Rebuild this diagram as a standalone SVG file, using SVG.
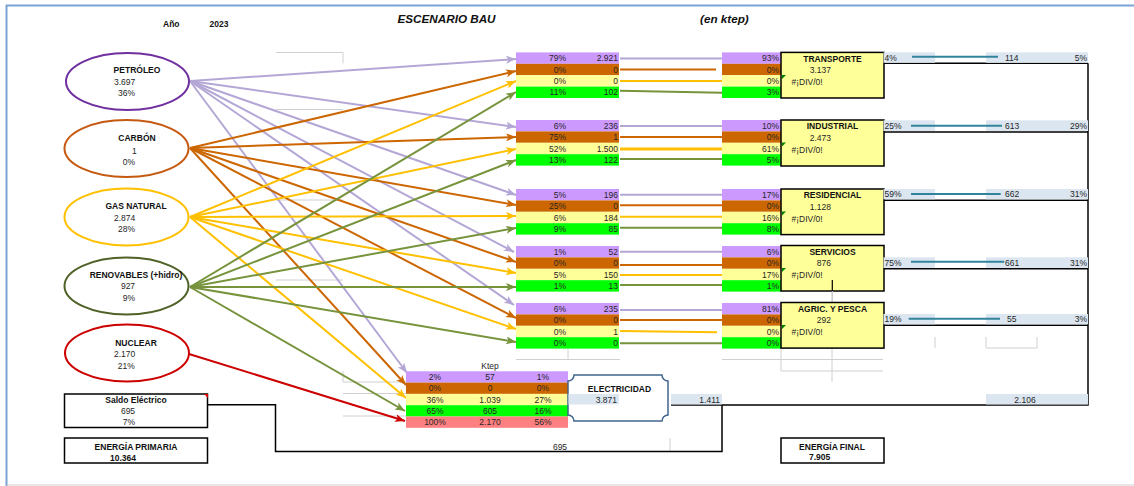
<svg xmlns="http://www.w3.org/2000/svg" width="1134" height="486" viewBox="0 0 1134 486">
  <style>
    text { font-family: "Liberation Sans", Arial, sans-serif; font-size: 8.5px; fill: #262626; }
    .b { font-weight: bold; fill: #111; }
    .r { text-anchor: end; }
    .m { text-anchor: middle; }
    .ttl { font-size: 11.7px; font-weight: bold; font-style: italic; fill: #111; }
    .pu { fill: #CC99FF; } .or { fill: #CC6600; } .ye { fill: #FFFF99; } .gr { fill: #00FF00; } .rd { fill: #FF8080; }
    .band { fill: #DCE6F1; }
    .grid { fill: none; stroke: #D0D0D0; stroke-width: 1; }
    .loop { fill: none; stroke: #000; stroke-width: 1.5; }
    .sector { fill: #FFFF99; stroke: #000; stroke-width: 1.5; }
    .box { fill: #fff; stroke: #000; stroke-width: 1.5; }
    .bar { stroke: #31849B; stroke-width: 2; }
    .src { fill: #fff; stroke-width: 2; }
    .cp { stroke: #B4A7D6; } .cc { stroke: #CC6600; } .cg { stroke: #FFC000; } .cr { stroke: #77933C; } .cn { stroke: #CC0000; }
    #connectors line { stroke-width: 2; fill: none; }
  </style>
  <defs>
    <marker id="aP" viewBox="0 0 10 8" refX="10" refY="4" markerWidth="10" markerHeight="8" markerUnits="userSpaceOnUse" orient="auto"><path d="M0,0 L10,4 L0,8 L2.5,4 z" fill="#B4A7D6"/></marker>
    <marker id="aC" viewBox="0 0 10 8" refX="10" refY="4" markerWidth="10" markerHeight="8" markerUnits="userSpaceOnUse" orient="auto"><path d="M0,0 L10,4 L0,8 L2.5,4 z" fill="#CC6600"/></marker>
    <marker id="aG" viewBox="0 0 10 8" refX="10" refY="4" markerWidth="10" markerHeight="8" markerUnits="userSpaceOnUse" orient="auto"><path d="M0,0 L10,4 L0,8 L2.5,4 z" fill="#FFC000"/></marker>
    <marker id="aR" viewBox="0 0 10 8" refX="10" refY="4" markerWidth="10" markerHeight="8" markerUnits="userSpaceOnUse" orient="auto"><path d="M0,0 L10,4 L0,8 L2.5,4 z" fill="#77933C"/></marker>
    <marker id="aN" viewBox="0 0 10 8" refX="10" refY="4" markerWidth="10" markerHeight="8" markerUnits="userSpaceOnUse" orient="auto"><path d="M0,0 L10,4 L0,8 L2.5,4 z" fill="#CC0000"/></marker>
  </defs>

  <rect width="1134" height="486" fill="#fff"/>
  <!-- sheet frame -->
  <line x1="6" y1="5.5" x2="1134" y2="5.5" stroke="#7BA3D3" stroke-width="2"/>
  <line x1="6.5" y1="5" x2="6.5" y2="486" stroke="#7BA3D3" stroke-width="2"/>
  <line x1="7" y1="485" x2="1134" y2="485" stroke="#D0D0D0" stroke-width="1"/>

  <!-- header -->
  <g id="header">
    <text class="b" x="163" y="27">Año</text>
    <text class="b" x="209.5" y="27">2023</text>
    <text class="ttl" x="397.5" y="23">ESCENARIO BAU</text>
    <text class="ttl" x="700" y="23">(en ktep)</text>
  </g>

  <!-- faint cell borders -->
  <g id="grid">
    <path class="grid" d="M276,52.5 H343 V63.5 M276,109.5 H343 M276,200 H343 M276,280 H343"/>
    <path class="grid" d="M343,371 V382 H406 M343,393.5 H406 M343,416 H406"/>
    <path class="grid" d="M516,359.5 H620 M568,348.6 V359.5 M722,359.5 H883 M781,348.6 V371 H883 M832,291 V382"/>
    <path class="grid" d="M670,438 V451 M935,337 V348 M986,337 V348 H1037 V337"/>
  </g>

  <!-- electricity balance loop -->
  <g id="loop">
    <path class="loop" d="M671,405 H1088 V63.3"/>
    <path class="loop" d="M883,63.3 H1088 M883,132 H1088 M883,200.3 H1088 M883,268.7 H1088 M883,325.3 H1088"/>
    <path class="loop" d="M722,405 V451.5 H275.5 V404.7 H208"/>
    <text class="m" x="560" y="450">695</text>
  </g>

  <!-- source -> use connectors -->
  <g id="connectors">
    <line class="cp" x1="190" y1="81" x2="516" y2="59" marker-end="url(#aP)"/>
    <line class="cp" x1="190" y1="81" x2="516" y2="127" marker-end="url(#aP)"/>
    <line class="cp" x1="190" y1="81" x2="516" y2="195" marker-end="url(#aP)"/>
    <line class="cp" x1="190" y1="81" x2="514" y2="252" marker-end="url(#aP)"/>
    <line class="cp" x1="190" y1="81" x2="514" y2="305" marker-end="url(#aP)"/>
    <line class="cp" x1="190" y1="81" x2="407" y2="373" marker-end="url(#aP)"/>

    <line class="cc" x1="190" y1="148" x2="516" y2="71" marker-end="url(#aC)"/>
    <line class="cc" x1="190" y1="148" x2="516" y2="137" marker-end="url(#aC)"/>
    <line class="cc" x1="190" y1="148" x2="516" y2="205" marker-end="url(#aC)"/>
    <line class="cc" x1="190" y1="148" x2="516" y2="262" marker-end="url(#aC)"/>
    <line class="cc" x1="190" y1="148" x2="516" y2="318" marker-end="url(#aC)"/>
    <line class="cc" x1="190" y1="148" x2="406" y2="385" marker-end="url(#aC)"/>

    <line class="cg" x1="190" y1="217" x2="516" y2="81" marker-end="url(#aG)"/>
    <line class="cg" x1="190" y1="217" x2="516" y2="149" marker-end="url(#aG)"/>
    <line class="cg" x1="190" y1="217" x2="516" y2="216" marker-end="url(#aG)"/>
    <line class="cg" x1="190" y1="217" x2="516" y2="273" marker-end="url(#aG)"/>
    <line class="cg" x1="190" y1="217" x2="516" y2="329" marker-end="url(#aG)"/>
    <line class="cg" x1="190" y1="217" x2="406" y2="398" marker-end="url(#aG)"/>

    <line class="cr" x1="190" y1="287" x2="516" y2="92" marker-end="url(#aR)"/>
    <line class="cr" x1="190" y1="287" x2="516" y2="160" marker-end="url(#aR)"/>
    <line class="cr" x1="190" y1="287" x2="516" y2="228" marker-end="url(#aR)"/>
    <line class="cr" x1="190" y1="287" x2="516" y2="287" marker-end="url(#aR)"/>
    <line class="cr" x1="190" y1="287" x2="516" y2="342" marker-end="url(#aR)"/>
    <line class="cr" x1="190" y1="287" x2="405" y2="411" marker-end="url(#aR)"/>

    <line class="cn" x1="189" y1="354" x2="405" y2="421" marker-end="url(#aN)"/>

    <!-- table-to-table links -->
    <line class="cp" x1="620" y1="58.5" x2="722" y2="58.5"/>
    <line class="cc" x1="620" y1="69.5" x2="716" y2="69.5"/>
    <line class="cg" x1="620" y1="81" x2="722" y2="81"/>
    <line class="cr" x1="620" y1="90.7" x2="722" y2="92.7"/>

    <line class="cp" x1="620" y1="126" x2="722" y2="126"/>
    <line class="cc" x1="620" y1="137" x2="722" y2="137"/>
    <line class="cg" x1="620" y1="149" x2="722" y2="149" style="stroke-width:3"/>
    <line class="cr" x1="620" y1="159" x2="722" y2="159"/>

    <line class="cp" x1="620" y1="194.7" x2="722" y2="194.7"/>
    <line class="cc" x1="620" y1="205.3" x2="722" y2="205.3"/>
    <line class="cg" x1="620" y1="216.7" x2="722" y2="216.7"/>
    <line class="cr" x1="620" y1="227.7" x2="722" y2="227.7"/>

    <line class="cp" x1="620" y1="251.7" x2="724" y2="251.7"/>
    <line class="cc" x1="620" y1="265" x2="722" y2="265"/>
    <line class="cg" x1="620" y1="275" x2="722" y2="275"/>
    <line class="cr" x1="620" y1="285" x2="722" y2="285"/>

    <line class="cp" x1="620" y1="310" x2="722" y2="310"/>
    <line class="cc" x1="620" y1="320" x2="722" y2="320"/>
    <line class="cg" x1="620" y1="331" x2="717" y2="332.3"/>
    <line class="cr" x1="620" y1="343.3" x2="722" y2="343.3"/>
  </g>

  <!-- primary sources -->
  <g id="petroleo">
    <ellipse class="src" cx="127.5" cy="81.5" rx="61.5" ry="28.5" stroke="#7030A0"/>
    <text class="b m" x="137" y="73">PETRÓLEO</text>
    <text x="114" y="84.7">3.697</text>
    <text x="118" y="95.7">36%</text>
  </g>
  <g id="carbon">
    <ellipse class="src" cx="126.5" cy="148.5" rx="62" ry="28.5" stroke="#C65911"/>
    <text class="b m" x="137" y="141">CARBÓN</text>
    <text x="132" y="153.7">1</text>
    <text x="122.7" y="164.5">0%</text>
  </g>
  <g id="gas-natural">
    <ellipse class="src" cx="126.5" cy="217" rx="62" ry="28.5" stroke="#FFC000"/>
    <text class="b m" x="136" y="209">GAS NATURAL</text>
    <text x="114" y="221">2.874</text>
    <text x="118" y="232">28%</text>
  </g>
  <g id="renovables">
    <ellipse class="src" cx="126.5" cy="286" rx="62" ry="28.5" stroke="#4F6228"/>
    <text class="b m" x="136" y="278">RENOVABLES (+hidro)</text>
    <text class="m" x="128" y="289">927</text>
    <text class="m" x="129" y="301">9%</text>
  </g>
  <g id="nuclear">
    <ellipse class="src" cx="127" cy="353" rx="62" ry="28.5" stroke="#CC0000"/>
    <text class="b m" x="136" y="346">NUCLEAR</text>
    <text x="114" y="357.3">2.170</text>
    <text x="117.7" y="369">21%</text>
  </g>
  <g id="saldo-electrico">
    <rect class="box" x="64.5" y="394" width="143" height="33.5"/>
    <path d="M204,394 H208 V398 z" fill="#E00000"/>
    <text class="b m" x="136" y="403">Saldo Eléctrico</text>
    <text class="m" x="128" y="414.3">695</text>
    <text class="m" x="129" y="425">7%</text>
  </g>
  <g id="energia-primaria">
    <rect class="box" x="64.5" y="438" width="143" height="25"/>
    <text class="b m" x="136" y="450">ENERGÍA PRIMARIA</text>
    <text class="b" x="110" y="461">10.364</text>
  </g>

  <!-- sector tables: supply by source (left) and share of sector (right) -->
  <g id="transporte">
    <rect class="pu" x="516" y="52.4" width="103" height="11.4"/><rect class="or" x="516" y="63.8" width="103" height="11.4"/>
    <rect class="ye" x="516" y="75.2" width="103" height="11.4"/><rect class="gr" x="516" y="86.6" width="103" height="11.4"/>
    <text class="r" x="566" y="61.1">79%</text><text class="r" x="618" y="61.1">2.921</text>
    <text class="r" x="566" y="72.5">0%</text><text class="r" x="618" y="72.5">0</text>
    <text class="r" x="566" y="83.9">0%</text><text class="r" x="618" y="83.9">0</text>
    <text class="r" x="566" y="95.3">11%</text><text class="r" x="618" y="95.3">102</text>
    <rect class="pu" x="722" y="52.4" width="59" height="11.4"/><rect class="or" x="722" y="63.8" width="59" height="11.4"/>
    <rect class="ye" x="722" y="75.2" width="59" height="11.4"/><rect class="gr" x="722" y="86.6" width="59" height="11.4"/>
    <text class="r" x="779" y="61.1">93%</text><text class="r" x="779" y="72.5">0%</text>
    <text class="r" x="779" y="83.9">0%</text><text class="r" x="779" y="95.3">3%</text>
    <rect class="sector" x="781" y="52.4" width="103" height="45.6"/>
    <path d="M782,75 L786,75 L782,79 z" fill="#008000"/>
    <text class="b m" x="832.5" y="61.5">TRANSPORTE</text>
    <text class="r" x="831" y="73">3.137</text>
    <text x="791.5" y="85">#¡DIV/0!</text>
  </g>
  <g id="industrial">
    <rect class="pu" x="516" y="120" width="103" height="11.4"/><rect class="or" x="516" y="131.4" width="103" height="11.4"/>
    <rect class="ye" x="516" y="142.8" width="103" height="11.4"/><rect class="gr" x="516" y="154.2" width="103" height="11.4"/>
    <text class="r" x="566" y="128.7">6%</text><text class="r" x="618" y="128.7">236</text>
    <text class="r" x="566" y="140.1">75%</text><text class="r" x="618" y="140.1">1</text>
    <text class="r" x="566" y="151.5">52%</text><text class="r" x="618" y="151.5">1.500</text>
    <text class="r" x="566" y="162.9">13%</text><text class="r" x="618" y="162.9">122</text>
    <rect class="pu" x="722" y="120" width="59" height="11.4"/><rect class="or" x="722" y="131.4" width="59" height="11.4"/>
    <rect class="ye" x="722" y="142.8" width="59" height="11.4"/><rect class="gr" x="722" y="154.2" width="59" height="11.4"/>
    <text class="r" x="779" y="128.7">10%</text><text class="r" x="779" y="140.1">0%</text>
    <text class="r" x="779" y="151.5">61%</text><text class="r" x="779" y="162.9">5%</text>
    <rect class="sector" x="781" y="120" width="103" height="46"/>
    <path d="M782,142.6 L786,142.6 L782,146.6 z" fill="#008000"/>
    <text class="b m" x="832.5" y="129">INDUSTRIAL</text>
    <text class="r" x="831" y="140.5">2.473</text>
    <text x="791.5" y="152.5">#¡DIV/0!</text>
  </g>
  <g id="residencial">
    <rect class="pu" x="516" y="189" width="103" height="11.4"/><rect class="or" x="516" y="200.4" width="103" height="11.4"/>
    <rect class="ye" x="516" y="211.8" width="103" height="11.4"/><rect class="gr" x="516" y="223.2" width="103" height="11.4"/>
    <text class="r" x="566" y="197.7">5%</text><text class="r" x="618" y="197.7">196</text>
    <text class="r" x="566" y="209.1">25%</text><text class="r" x="618" y="209.1">0</text>
    <text class="r" x="566" y="220.5">6%</text><text class="r" x="618" y="220.5">184</text>
    <text class="r" x="566" y="231.9">9%</text><text class="r" x="618" y="231.9">85</text>
    <rect class="pu" x="722" y="189" width="59" height="11.4"/><rect class="or" x="722" y="200.4" width="59" height="11.4"/>
    <rect class="ye" x="722" y="211.8" width="59" height="11.4"/><rect class="gr" x="722" y="223.2" width="59" height="11.4"/>
    <text class="r" x="779" y="197.7">17%</text><text class="r" x="779" y="209.1">0%</text>
    <text class="r" x="779" y="220.5">16%</text><text class="r" x="779" y="231.9">8%</text>
    <rect class="sector" x="781" y="189" width="103" height="45.6"/>
    <path d="M782,211.6 L786,211.6 L782,215.6 z" fill="#008000"/>
    <text class="b m" x="832.5" y="198">RESIDENCIAL</text>
    <text class="r" x="831" y="209.5">1.128</text>
    <text x="791.5" y="221.5">#¡DIV/0!</text>
  </g>
  <g id="servicios">
    <rect class="pu" x="516" y="246" width="103" height="11.4"/><rect class="or" x="516" y="257.4" width="103" height="11.4"/>
    <rect class="ye" x="516" y="268.8" width="103" height="11.4"/><rect class="gr" x="516" y="280.2" width="103" height="11.4"/>
    <text class="r" x="566" y="254.7">1%</text><text class="r" x="618" y="254.7">52</text>
    <text class="r" x="566" y="266.1">0%</text><text class="r" x="618" y="266.1">0</text>
    <text class="r" x="566" y="277.5">5%</text><text class="r" x="618" y="277.5">150</text>
    <text class="r" x="566" y="288.9">1%</text><text class="r" x="618" y="288.9">13</text>
    <rect class="pu" x="722" y="246" width="59" height="11.4"/><rect class="or" x="722" y="257.4" width="59" height="11.4"/>
    <rect class="ye" x="722" y="268.8" width="59" height="11.4"/><rect class="gr" x="722" y="280.2" width="59" height="11.4"/>
    <text class="r" x="779" y="254.7">6%</text><text class="r" x="779" y="266.1">0%</text>
    <text class="r" x="779" y="277.5">17%</text><text class="r" x="779" y="288.9">1%</text>
    <rect class="sector" x="781" y="245.5" width="103" height="45.5"/>
    <path d="M782,268 L786,268 L782,272 z" fill="#008000"/>
    <line x1="832.3" y1="280" x2="832.3" y2="291" stroke="#000" stroke-width="1.2"/>
    <line x1="832.3" y1="291" x2="832.3" y2="303" stroke="#C8C8C8" stroke-width="1"/>
    <text class="b m" x="832.5" y="254.5">SERVICIOS</text>
    <text class="r" x="831" y="266">876</text>
    <text x="791.5" y="278">#¡DIV/0!</text>
  </g>
  <g id="agric-pesca">
    <rect class="pu" x="516" y="303" width="103" height="11.4"/><rect class="or" x="516" y="314.4" width="103" height="11.4"/>
    <rect class="ye" x="516" y="325.8" width="103" height="11.4"/><rect class="gr" x="516" y="337.2" width="103" height="11.4"/>
    <text class="r" x="566" y="311.7">6%</text><text class="r" x="618" y="311.7">235</text>
    <text class="r" x="566" y="323.1">0%</text><text class="r" x="618" y="323.1">0</text>
    <text class="r" x="566" y="334.5">0%</text><text class="r" x="618" y="334.5">1</text>
    <text class="r" x="566" y="345.9">0%</text><text class="r" x="618" y="345.9">0</text>
    <rect class="pu" x="722" y="303" width="59" height="11.4"/><rect class="or" x="722" y="314.4" width="59" height="11.4"/>
    <rect class="ye" x="722" y="325.8" width="59" height="11.4"/><rect class="gr" x="722" y="337.2" width="59" height="11.4"/>
    <text class="r" x="779" y="311.7">81%</text><text class="r" x="779" y="323.1">0%</text>
    <text class="r" x="779" y="334.5">0%</text><text class="r" x="779" y="345.9">0%</text>
    <rect class="sector" x="781" y="302.5" width="103" height="45.6"/>
    <path d="M782,325 L786,325 L782,329 z" fill="#008000"/>
    <text class="b m" x="832.5" y="311.5">AGRIC. Y PESCA</text>
    <text class="r" x="831" y="323">292</text>
    <text x="791.5" y="335">#¡DIV/0!</text>
  </g>

  <!-- electricity share bars per sector -->
  <g id="bars">
    <rect class="band" x="883.5" y="52.3" width="51.5" height="10.5"/><rect class="band" x="986" y="52.3" width="102" height="10.5"/>
    <line class="bar" x1="912" y1="56.7" x2="998" y2="56.7"/>
    <text x="884.5" y="60.6">4%</text><text x="1005" y="60.6">114</text><text class="r" x="1087" y="60.6">5%</text>

    <rect class="band" x="883.5" y="120.3" width="51.5" height="10.7"/><rect class="band" x="986" y="120.3" width="102" height="10.7"/>
    <line class="bar" x1="911" y1="125.7" x2="1002" y2="125.7"/>
    <text x="884.5" y="128.8">25%</text><text x="1005" y="128.8">613</text><text class="r" x="1087" y="128.8">29%</text>

    <rect class="band" x="883.5" y="189" width="51.5" height="10.3"/><rect class="band" x="986" y="189" width="102" height="10.3"/>
    <line class="bar" x1="911" y1="194" x2="1000.7" y2="194"/>
    <text x="884.5" y="197.3">59%</text><text x="1005" y="197.3">662</text><text class="r" x="1087" y="197.3">31%</text>

    <rect class="band" x="883.5" y="257.3" width="51.5" height="10.7"/><rect class="band" x="986" y="257.3" width="102" height="10.7"/>
    <line class="bar" x1="911" y1="261.7" x2="1004.3" y2="261.7"/>
    <text x="884.5" y="265.7">75%</text><text x="1005" y="265.7">661</text><text class="r" x="1087" y="265.7">31%</text>

    <rect class="band" x="883.5" y="314" width="51.5" height="10.3"/><rect class="band" x="986" y="314" width="102" height="10.3"/>
    <line class="bar" x1="908.7" y1="318.7" x2="1000" y2="318.7"/>
    <text x="884.5" y="322.3">19%</text><text x="1007" y="322.3">55</text><text class="r" x="1087" y="322.3">3%</text>

    <rect class="band" x="671" y="394" width="51" height="10.5"/>
    <text class="r" x="720" y="402.5">1.411</text>
    <rect class="band" x="986" y="394" width="102" height="10.5"/>
    <text class="m" x="1025" y="402.5">2.106</text>
  </g>

  <!-- electricity generation inputs -->
  <g id="generacion">
    <text class="m" x="490" y="368.5">Ktep</text>
    <rect class="pu" x="406" y="371.3" width="162" height="11.3"/>
    <rect class="or" x="406" y="382.6" width="162" height="11.3"/>
    <rect class="ye" x="406" y="393.9" width="162" height="11.3"/>
    <rect class="gr" x="406" y="405.2" width="162" height="11.3"/>
    <rect class="rd" x="406" y="416.5" width="162" height="11.3"/>
    <text class="m" x="435" y="380">2%</text><text class="m" x="490" y="380">57</text><text class="m" x="543" y="380">1%</text>
    <text class="m" x="435" y="391.3">0%</text><text class="m" x="490" y="391.3">0</text><text class="m" x="543" y="391.3">0%</text>
    <text class="m" x="435" y="402.6">36%</text><text class="m" x="490" y="402.6">1.039</text><text class="m" x="543" y="402.6">27%</text>
    <text class="m" x="435" y="413.9">65%</text><text class="m" x="490" y="413.9">605</text><text class="m" x="543" y="413.9">16%</text>
    <text class="m" x="435" y="425.2">100%</text><text class="m" x="490" y="425.2">2.170</text><text class="m" x="543" y="425.2">56%</text>
  </g>

  <g id="electricidad">
    <path d="M574,375 H662 A6,6 0 0 0 668,381 V415 A6,6 0 0 0 662,421 H574 A6,6 0 0 0 568,415 V381 A6,6 0 0 0 574,375 Z" fill="#fff" stroke="#41648F" stroke-width="1.5"/>
    <rect class="band" x="568.5" y="394" width="50.5" height="10.5"/>
    <text class="b m" x="619.5" y="392">ELECTRICIDAD</text>
    <text class="r" x="617" y="402.5">3.871</text>
  </g>

  <g id="energia-final">
    <rect class="box" x="781" y="438" width="103" height="25"/>
    <text class="b m" x="832" y="449.7">ENERGÍA FINAL</text>
    <text class="b" x="809" y="460.3">7.905</text>
  </g>
</svg>
